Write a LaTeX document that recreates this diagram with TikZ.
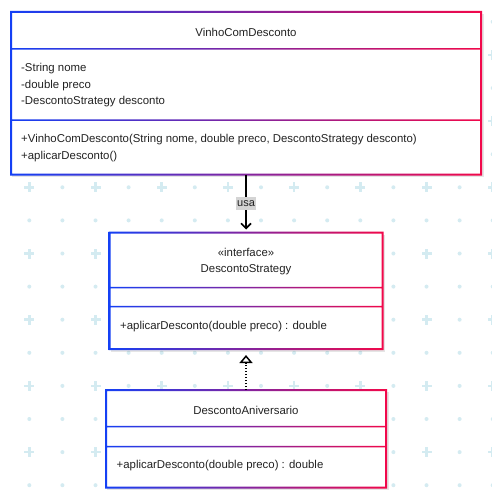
\documentclass[tikz,border=0pt]{standalone}
\usepackage{fontspec}
\setmainfont{Liberation Sans}
\usetikzlibrary{arrows.meta,calc}
\definecolor{gridc}{RGB}{212,235,241}
\definecolor{bl}{RGB}{20,64,245}
\definecolor{rd}{RGB}{242,8,74}
\definecolor{txt}{RGB}{34,34,34}
\definecolor{lblbg}{RGB}{212,212,212}
\newcommand\umlframe[6]{%
  \fill[black,opacity=0.10] (#1+1,#2+2) rectangle (#3+2.5,#4+2.5);
  \fill[white] (#1,#2) rectangle (#3,#4);
  \shade[left color=bl, right color=rd, even odd rule]
    (#1-1,#2-1) rectangle (#3+1,#4+1)
    (#1+1,#2+1) rectangle (#3-1,#5-0.75)
    (#1+1,#5+0.75) rectangle (#3-1,#6-0.75)
    (#1+1,#6+0.75) rectangle (#3-1,#4-1);
}
\begin{document}
\begin{tikzpicture}[x=1pt,y=-1pt,
  every node/.style={font=\fontsize{11.4}{14}\selectfont, text=txt},
  boxnode/.style={rectangle, inner sep=0pt, outer sep=0pt},
  txtnode/.style={inner sep=0pt},
  usalabel/.style={fill=lblbg, inner xsep=1pt, inner ysep=3pt, font=\fontsize{11}{13}\selectfont},
  assoc/.style={line width=1.6pt, -{Straight Barb[length=5pt,width=10pt]}, shorten >=3pt},
  realize/.style={line width=1.5pt, dash pattern=on 1.5pt off 1.5pt, -{Triangle[open,length=8pt,width=13pt,fill=white]}, shorten >=6pt}]
\useasboundingbox (0,0) rectangle (492,503);
\fill[white] (0,0) rectangle (492,503);
% background grid
\foreach \i in {0,...,14}{%
  \foreach \j in {-5,...,9}{%
    \pgfmathsetmacro\px{29.3+33.1*\i}%
    \pgfmathsetmacro\py{187.3+33.1*\j}%
    \pgfmathtruncatemacro\pl{mod(\i,2)+mod(abs(\j),2)}%
    \ifnum\pl=0
      \fill[gridc] (\px-5,\py-1.3) rectangle (\px+5,\py+1.3);
      \fill[gridc] (\px-1.3,\py-5) rectangle (\px+1.3,\py+5);
    \else
      \fill[gridc] (\px,\py) circle (2pt);
    \fi
  }%
}
% box nodes
\node[boxnode, minimum width=470pt, minimum height=162.5pt] (b1) at (246,93.25) {};
\node[boxnode, minimum width=273pt, minimum height=116.5pt] (b2) at (246,290.75) {};
\node[boxnode, minimum width=280pt, minimum height=97.5pt] (b3) at (246,438.75) {};
\umlframe{11}{12}{481}{174.5}{49}{120}
\umlframe{109.5}{232.5}{382.5}{349}{287.5}{306.7}
\umlframe{106}{390}{386}{487.5}{426.7}{446.7}
% texts box 1
\node[txtnode] (t1) at (246,32) {VinhoComDesconto};
\node[txtnode, anchor=west] (a1) at (21,69) {-String nome};
\node[txtnode, anchor=west] (a2) at (21,85.5) {-double preco};
\node[txtnode, anchor=west] (a3) at (21,102) {-DescontoStrategy desconto};
\node[txtnode, anchor=west] (m1) at (21,140) {+VinhoComDesconto(String nome, double preco, DescontoStrategy desconto)};
\node[txtnode, anchor=west] (m2) at (21,156.5) {+aplicarDesconto()};
% texts box 2
\node[txtnode] (s1) at (246,252.7) {«interface»};
\node[txtnode] (t2) at (246,269.3) {DescontoStrategy};
\node[txtnode, anchor=west] (m3) at (120,326.7) {+aplicarDesconto(double preco) : double};
% texts box 3
\node[txtnode] (t3) at (246,410) {DescontoAniversario};
\node[txtnode, anchor=west] (m4) at (116.5,466) {+aplicarDesconto(double preco) : double};
% connectors
\draw[assoc] (b1.south) -- node[usalabel] (lu) {usa} (b2.north);
\draw[realize] (b3.north) -- (b2.south);
\end{tikzpicture}
\end{document}
